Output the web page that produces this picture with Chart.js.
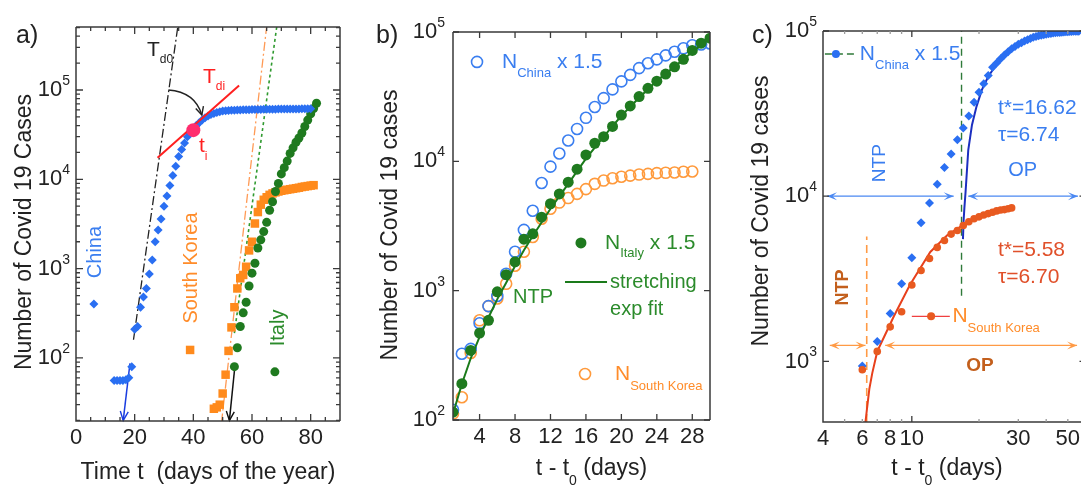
<!DOCTYPE html>
<html>
<head>
<meta charset="utf-8">
<script src="https://cdn.jsdelivr.net/npm/chart.js@4.4.1/dist/chart.umd.min.js"></script>
<style>
  html, body { margin: 0; padding: 0; background: #fff; overflow: hidden; }
  #wrap { position: relative; width: 1081px; height: 486px; overflow: hidden; }
  canvas { position: absolute; top: 0; }
</style>
</head>
<body>
<div id="wrap">
  <canvas id="ca" width="360" height="486" style="left:0"></canvas>
  <canvas id="cb" width="360" height="486" style="left:360px"></canvas>
  <canvas id="cc" width="370" height="486" style="left:720px"></canvas>
</div>
<script>
const FONT = "'Liberation Sans', Arial, Helvetica, sans-serif";

// ---------- a) cases vs day of the year
const aXTicks = [0, 20, 40, 60, 80];
const aYTicks = [100, 1000, 10000, 100000];
const chinaDayA = [13,14,15,16,17,18,19,20,21,22,23,24,25,26,27,28,29,30,31,32,33,34,35,36,37,38,39,40,
  41,42,43,44,45,46,47,48,49,50,51,52,53,54,55,56,57,58,59,60,61,62,63,64,65,66,67,68,69,70,
  71,72,73,74,75,76,77,78,79,80];
const chinaCasesA = [56,56,56,56,57,60,80,210,225,370,480,600,870,1250,2000,2700,
  3600,5000,6500,8500,11000,14000,18000,21500,25500,30000,33000,35500,
  40000,43000,46000,49000,51000,53000,54500,56000,57000,58000,
  58500,59000,59200,59400,59600,59800,60000,60100,60200,60300,
  60400,60500,60600,60700,60800,60900,61000,61000,61100,61100,
  61200,61200,61300,61300,61400,61400,61500,61500,61500,61600];
const koreaDayA = [47,48,49,50,51,52,53,54,55,56,57,58,59,60,61,62,63,64,65,66,
  67,68,69,70,71,72,73,74,75,76,77,78,79,80,81];
const koreaCasesA = [27,28,30,40,65,120,220,370,600,780,850,1050,1600,2000,3200,4300,5200,5900,6300,6700,
  6950,7150,7300,7450,7550,7650,7750,7850,7950,8050,8200,8300,8400,8500,8600];
const italyDayA = [54,55,56,57,58,59,60,61,62,63,64,65,66,67,68,69,70,71,72,73,74,75,76,77,78,79,80,81,82];
const italyCasesA = [80,130,225,320,420,640,890,1150,1700,2100,2600,3300,4500,5600,7300,9000,
  11500,13500,16000,19500,22500,26000,29000,33000,39000,46000,54000,62000,71000];
const td0Day = [19.6, 36], td0Cases = [160, 1020000];
const tdiDay = [27.8, 55.6], tdiCases = [17400, 112000];
const koreaSlopeDay = [49.6, 66], koreaSlopeCases = [19, 1000000];
const italySlopeDay = [54, 70], italySlopeCases = [190, 1200000];
const chinaOnsetDay = [18.4, 16.1], chinaOnsetCases = [87, 20];
const italyOnsetDay = [54.2, 52.3], italyOnsetCases = [83, 20];
const tiDay = [40], tiCases = [35500];
const bendDay = [31.5, 40.6, 42.9], bendCases = [100000, 95000, 52500];

// ---------- b) rescaled cases vs t - t0
const bXTicks = [4, 8, 12, 16, 20, 24, 28];
const bYTicks = [100, 1000, 10000, 100000];
const dayB = [1,2,3,4,5,6,7,8,9,10,11,12,13,14,15,16,17,18,19,20,21,22,23,24,25,26,27,28,29,30];
const chinaB = [120,325,355,560,760,910,1350,2000,2950,4150,6800,9100,11500,14500,17800,21700,
  26300,30800,36000,41500,46600,52600,57300,61400,66000,70400,74800,79000,80000,81500];
const italyB = [115,191,345,470,590,980,1330,1670,2500,2750,3700,4700,5600,6900,8700,11200,
  13800,15500,18600,22800,26800,31700,36700,41700,47300,53800,61500,72000,82000,89500];
const koreaDayB = [1,2,3,4,5,6,7,8,9,10,11,12,13,14,15,16,17,18,19,20,21,22,23,24,25,26,27,28];
const koreaB = [112,150,330,590,760,870,1130,1560,2000,2600,3600,4300,4800,5200,5600,6100,
  6700,7100,7400,7600,7750,7900,8000,8100,8150,8200,8300,8350];
const fitDayB = [1,2,3,4,5,6,7,8,9,10,12,14,16,18,20,22,24,26,28,30];
const fitB = [112,190,300,440,620,860,1150,1550,2050,2650,4300,6700,10500,15500,22500,31000,42000,54000,70000,89000];

// ---------- c) log-log with fits
const cXTicks = [4, 6, 8, 10, 30, 50];
const cYTicks = [1000, 10000, 100000];
const chinaDayC = [6,7,8,9,10,11,12,13,14,15,16,17,18,19,20,21,22,23,24,25,26,27,28,29,30,
  31,32,33,34,35,36,37,38,39,40,41,42,43,44,45,46,47,48,49,50,51,52,53,54,55,56];
const chinaC = [940,1320,1950,2950,4240,6900,9100,11800,14900,18000,22000,25900,30600,37000,42600,
  48000,53700,60300,64000,68000,71500,75000,78000,80500,83000,85000,87000,88500,90000,91500,
  92500,93500,94300,95000,95600,96200,96700,97100,97500,97800,98100,98400,98600,98800,99000,
  99200,99400,99500,99600,99700,99800];
const koreaDayC = [6,7,8,9,10,11,12,13,14,15,16,17,18,19,20,21,22,23,24,25,26,27,28];
const koreaC = [890,1150,1620,2000,2900,3550,4200,4900,5400,5900,6200,6650,7000,7300,7500,
  7700,7850,8000,8150,8250,8300,8400,8500];
const chinaFitDay = [16.95,17.05,17.2,17.4,17.9,18.6,19.5,20.6,22,24,27,31,36,42,50,60];
const chinaFit = [5500,7000,8500,10500,19000,27000,35000,44000,53000,63000,74000,84000,91000,96000,99000,100000];
const koreaFitDay = [6.2,6.3,6.45,6.65,7.0,7.5,8.3,9.8,12.1,14.4,17,20,24,28.5];
const koreaFit = [430,520,680,850,1150,1400,1870,2900,4600,5800,6700,7400,8000,8500];
const tStarChinaDay = [16.7, 16.7], tStarChinaCases = [2500, 100000];
const tStarKoreaDay = [6.28, 6.28], tStarKoreaCases = [430, 5700];
const chinaNtpDay = [4.17, 15.4], chinaOpDay = [17.9, 55.5], chinaArrowCases = [10000, 10000];
const koreaNtpDay = [4.29, 6.2], koreaOpDay = [7.6, 55], koreaArrowCases = [1250, 1250];

// ---------- helpers
const pts = (xs, ys) => xs.map((x, i) => ({x: x, y: ys[i]}));
const font = (s, b) => (b ? 'bold ' : '') + s + 'px ' + FONT;
const P = (c, x, y) => [c.scales.x.getPixelForValue(x), c.scales.y.getPixelForValue(y)];

function rich(ctx, parts, x, y, color, align) {
  let w = 0;
  parts.forEach(p => { ctx.font = font(p.s, p.b); p.w = ctx.measureText(p.t).width; w += p.w; });
  let cx = align === 'center' ? x - w / 2 : x;
  ctx.textAlign = 'left'; ctx.textBaseline = 'middle'; ctx.fillStyle = color;
  parts.forEach(p => { ctx.font = font(p.s, p.b); ctx.fillText(p.t, cx, y + (p.dy || 0)); cx += p.w; });
}
function vtext(ctx, s, x, y, size, color, bold) {
  ctx.save(); ctx.translate(x, y); ctx.rotate(-Math.PI / 2);
  ctx.font = font(size, bold); ctx.fillStyle = color; ctx.textAlign = 'center'; ctx.textBaseline = 'middle';
  ctx.fillText(s, 0, 0); ctx.restore();
}
function dot(ctx, style, r, x, y, fill, stroke, bw) {
  ctx.fillStyle = fill; ctx.strokeStyle = stroke || fill; ctx.lineWidth = bw || 0;
  Chart.helpers.drawPoint(ctx, {pointStyle: style, radius: r, rotation: 0, borderWidth: bw || 0}, x, y);
}
function head(ctx, x1, y1, x2, y2, len, wid, color, filled) {
  const a = Math.atan2(y2 - y1, x2 - x1), c = Math.cos(a), s = Math.sin(a);
  ctx.setLineDash([]); ctx.strokeStyle = color; ctx.fillStyle = color; ctx.lineWidth = 1.4;
  ctx.beginPath();
  ctx.moveTo(x2 - len * c + wid * s, y2 - len * s - wid * c);
  ctx.lineTo(x2, y2);
  ctx.lineTo(x2 - len * c - wid * s, y2 - len * s + wid * c);
  if (filled) { ctx.lineTo(x2 - 0.55 * len * c, y2 - 0.55 * len * s); ctx.closePath(); ctx.fill(); }
  else ctx.stroke();
}
function frame(c, right) {
  const a = c.chartArea, ctx = c.ctx;
  ctx.setLineDash([]); ctx.strokeStyle = '#3a3a3a'; ctx.lineWidth = 1.5;
  ctx.beginPath();
  ctx.moveTo(a.left, a.top); ctx.lineTo(a.left, a.bottom); ctx.lineTo(a.right, a.bottom);
  ctx.moveTo(a.left, a.top); ctx.lineTo(a.right, a.top);
  if (right) { ctx.moveTo(a.right, a.top); ctx.lineTo(a.right, a.bottom); }
  ctx.stroke();
}
function xMarks(c, vals, len, color) {
  const a = c.chartArea, ctx = c.ctx;
  ctx.strokeStyle = color || '#3a3a3a'; ctx.lineWidth = 1.3; ctx.beginPath();
  vals.forEach(v => {
    const x = c.scales.x.getPixelForValue(v);
    ctx.moveTo(x, a.bottom); ctx.lineTo(x, a.bottom - len);
    ctx.moveTo(x, a.top); ctx.lineTo(x, a.top + len);
  });
  ctx.stroke();
}
function yMarks(c, vals, len) {
  const a = c.chartArea, ctx = c.ctx;
  ctx.strokeStyle = '#3a3a3a'; ctx.lineWidth = 1.3; ctx.beginPath();
  vals.forEach(v => {
    const y = c.scales.y.getPixelForValue(v);
    ctx.moveTo(a.left, y); ctx.lineTo(a.left + len, y);
    ctx.moveTo(a.right, y); ctx.lineTo(a.right - len, y);
  });
  ctx.stroke();
}
function xLabels(c, vals) {
  const ctx = c.ctx, a = c.chartArea;
  ctx.font = font(22); ctx.fillStyle = '#222'; ctx.textAlign = 'center'; ctx.textBaseline = 'alphabetic';
  vals.forEach(v => ctx.fillText(String(v), c.scales.x.getPixelForValue(v), a.bottom + 23));
}
function yLabels(c, vals, gap) {
  const ctx = c.ctx, xr = c.chartArea.left - gap;
  vals.forEach(v => {
    const y = c.scales.y.getPixelForValue(v), e = String(Math.round(Math.log10(v)));
    ctx.fillStyle = '#222'; ctx.textBaseline = 'middle'; ctx.textAlign = 'right';
    ctx.font = font(14); const we = ctx.measureText(e).width;
    ctx.fillText(e, xr, y - 9);
    ctx.font = font(22); ctx.fillText('10', xr - we, y);
  });
}
function minorLog(lo, hi) {
  const out = [];
  for (let e = Math.floor(Math.log10(lo)); e <= Math.ceil(Math.log10(hi)); e++)
    for (let m = 2; m <= 9; m++) { const v = m * Math.pow(10, e); if (v > lo && v < hi) out.push(v); }
  return out;
}
function line(xs, ys, color, width, dash) {
  return {data: pts(xs, ys), showLine: true, pointRadius: 0, borderColor: color,
          borderWidth: width, borderDash: dash || [], backgroundColor: color};
}
function scatter(xs, ys, style, r, fill, stroke, bw) {
  return {data: pts(xs, ys), showLine: false, pointStyle: style, pointRadius: r,
          backgroundColor: fill, borderColor: stroke || fill, borderWidth: bw || 0};
}
function makeChart(id, datasets, xs, ys, pad, deco) {
  return new Chart(document.getElementById(id), {
    type: 'scatter',
    data: {datasets: datasets},
    options: {
      responsive: false, animation: false, events: [],
      layout: {padding: pad},
      plugins: {legend: {display: false}, tooltip: {enabled: false}},
      scales: {x: Object.assign({display: false}, xs), y: Object.assign({display: false}, ys)}
    },
    plugins: [{id: 'deco' + id, afterDatasetsDraw: deco}]
  });
}

// ---------- colours
const BLUE = '#2a6ff2', BLUE_T = '#3a7ef0', NAVY = '#1c2fc0';
const ORANGE = '#ff8a1c', ORANGE_T = '#ff8c2a', GREEN = '#1f7a1f', GREEN_T = '#2b8b2b';
const RED_OR = '#e85a20', RED_T = '#e0502a', BROWN = '#c35f1c', LIGHT_OR = '#ff9a45';

// ---------- panel a
makeChart('ca', [
  line(tdiDay, tdiCases, '#ff1f1f', 2),
  scatter(chinaDayA, chinaCasesA, 'rectRot', 4.5, BLUE),
  scatter(italyDayA, italyCasesA, 'circle', 4.5, GREEN),
  scatter(koreaDayA, koreaCasesA, 'rect', 6, ORANGE),
  line(td0Day, td0Cases, '#222', 1.3, [9, 3, 2, 3]),
  line(koreaSlopeDay, koreaSlopeCases, '#ff9a55', 1.3, [9, 3, 2, 3]),
  line(italySlopeDay, italySlopeCases, '#2f9a2f', 1.6, [3, 3]),
  line(chinaOnsetDay, chinaOnsetCases, '#1a3de0', 1.5),
  line(italyOnsetDay, italyOnsetCases, '#111', 1.5)
], {type: 'linear', min: 0, max: 90}, {type: 'logarithmic', min: 19.7, max: 507000},
  {left: 76, right: 20, top: 27, bottom: 65}, function (c) {
  const ctx = c.ctx, a = c.chartArea;
  ctx.save();
  let p = P(c, chinaOnsetDay[0], chinaOnsetCases[0]), q = P(c, chinaOnsetDay[1], chinaOnsetCases[1]);
  head(ctx, p[0], p[1], q[0], q[1], 9, 4, '#1a3de0', false);
  p = P(c, italyOnsetDay[0], italyOnsetCases[0]); q = P(c, italyOnsetDay[1], italyOnsetCases[1]);
  head(ctx, p[0], p[1], q[0], q[1], 9, 4, '#111', false);
  // inflection point
  p = P(c, tiDay[0], tiCases[0]);
  dot(ctx, 'circle', 7, p[0], p[1], '#ff2d6e');
  // curved arrow from T_d0 to T_di
  const b0 = P(c, bendDay[0], bendCases[0]), b1 = P(c, bendDay[1], bendCases[1]), b2 = P(c, bendDay[2], bendCases[2]);
  ctx.strokeStyle = '#222'; ctx.lineWidth = 1.4; ctx.setLineDash([]);
  ctx.beginPath(); ctx.moveTo(b0[0], b0[1]); ctx.quadraticCurveTo(b1[0], b1[1], b2[0], b2[1]); ctx.stroke();
  head(ctx, b1[0], b1[1], b2[0], b2[1], 8, 4, '#222', false);
  // labels
  p = P(c, 24.2, 280000); rich(ctx, [{t: 'T', s: 21}, {t: 'd0', s: 12, dy: 10}], p[0], p[1], '#222');
  p = P(c, 43.3, 140000); rich(ctx, [{t: 'T', s: 21}, {t: 'di', s: 12, dy: 10}], p[0], p[1], '#ff1f1f');
  p = P(c, 41.9, 23600); rich(ctx, [{t: 't', s: 21}, {t: 'i', s: 12, dy: 11}], p[0], p[1], '#ff1f1f');
  p = P(c, 6.8, 1535); vtext(ctx, 'China', p[0], p[1], 20, BLUE_T);
  p = P(c, 39.5, 1016); vtext(ctx, 'South Korea', p[0], p[1], 20, ORANGE_T);
  p = P(c, 68.9, 217); vtext(ctx, 'Italy', p[0], p[1], 20, GREEN_T);
  p = P(c, 6.1, 402); dot(ctx, 'rectRot', 4.5, p[0], p[1], BLUE);
  p = P(c, 38.9, 123); dot(ctx, 'rect', 6, p[0], p[1], ORANGE);
  p = P(c, 67.8, 70); dot(ctx, 'circle', 4.5, p[0], p[1], GREEN);
  // axes
  frame(c, true);
  xMarks(c, [5, 10, 15, 25, 30, 35, 45, 50, 55, 65, 70, 75, 85], 4);
  xMarks(c, [20, 40, 60, 80], 7);
  yMarks(c, minorLog(19.7, 507000), 4);
  yMarks(c, aYTicks, 7);
  xLabels(c, aXTicks);
  yLabels(c, aYTicks, 6);
  ctx.font = font(23); ctx.fillStyle = '#222'; ctx.textAlign = 'center'; ctx.textBaseline = 'alphabetic';
  ctx.fillText('Time t  (days of the year)', (a.left + a.right) / 2, 479);
  vtext(ctx, 'Number of Covid 19 Cases', 25, 232, 23, '#222');
  ctx.font = font(25); ctx.textAlign = 'left'; ctx.fillStyle = '#222';
  ctx.fillText('a)', 16, 43);
  ctx.restore();
});

// ---------- panel b
makeChart('cb', [
  scatter(dayB, italyB, 'circle', 5.5, GREEN),
  line(fitDayB, fitB, '#1a7a1a', 2),
  scatter(dayB, chinaB, 'circle', 5.5, 'rgba(0,0,0,0)', BLUE_T, 1.6),
  scatter(koreaDayB, koreaB, 'circle', 5.5, 'rgba(0,0,0,0)', '#ff9a3c', 1.6)
], {type: 'linear', min: 1, max: 30}, {type: 'logarithmic', min: 100, max: 100000},
  {left: 93, right: 10, top: 32, bottom: 66}, function (c) {
  const ctx = c.ctx, a = c.chartArea;
  ctx.save();
  let p = P(c, 3.71, 58700); dot(ctx, 'circle', 5.5, p[0], p[1], 'rgba(0,0,0,0)', BLUE_T, 1.6);
  p = P(c, 6.53, 58700);
  rich(ctx, [{t: 'N', s: 21}, {t: 'China', s: 13, dy: 11}, {t: ' x 1.5', s: 21}], p[0], p[1], BLUE_T);
  p = P(c, 15.44, 2340); dot(ctx, 'circle', 5.5, p[0], p[1], GREEN);
  p = P(c, 18.15, 2340);
  rich(ctx, [{t: 'N', s: 21}, {t: 'Italy', s: 13, dy: 11}, {t: ' x 1.5', s: 21}], p[0], p[1], GREEN_T);
  p = P(c, 13.64, 1167); const q = P(c, 18.38, 1167);
  ctx.strokeStyle = '#1a7a1a'; ctx.lineWidth = 2; ctx.setLineDash([]);
  ctx.beginPath(); ctx.moveTo(p[0], p[1]); ctx.lineTo(q[0], q[1]); ctx.stroke();
  p = P(c, 18.72, 1167); rich(ctx, [{t: 'stretching', s: 20}], p[0], p[1], GREEN_T);
  p = P(c, 18.72, 721); rich(ctx, [{t: 'exp fit', s: 20}], p[0], p[1], GREEN_T);
  p = P(c, 7.77, 893); rich(ctx, [{t: 'NTP', s: 20}], p[0], p[1], GREEN_T);
  p = P(c, 15.9, 227); dot(ctx, 'circle', 5.5, p[0], p[1], 'rgba(0,0,0,0)', '#ff9a3c', 1.6);
  p = P(c, 19.28, 227);
  rich(ctx, [{t: 'N', s: 21}, {t: 'South Korea', s: 13, dy: 12}], p[0], p[1], ORANGE_T);
  frame(c, true);
  xMarks(c, bXTicks, 6);
  yMarks(c, bYTicks, 6);
  xLabels(c, bXTicks);
  yLabels(c, bYTicks, 8);
  rich(ctx, [{t: 't - t', s: 23}, {t: '0', s: 14, dy: 12}, {t: ' (days)', s: 23}], (a.left + a.right) / 2 + 10, 469, '#222', 'center');
  vtext(ctx, 'Number of Covid 19 cases', 31, 225, 23, '#222');
  ctx.font = font(25); ctx.textAlign = 'left'; ctx.textBaseline = 'alphabetic'; ctx.fillStyle = '#222';
  ctx.fillText('b)', 16, 43);
  ctx.restore();
});

// ---------- panel c
makeChart('cc', [
  scatter(koreaDayC, koreaC, 'circle', 3.8, RED_OR),
  scatter(chinaDayC, chinaC, 'rectRot', 4.5, BLUE),
  line(chinaFitDay, chinaFit, NAVY, 2),
  line(koreaFitDay, koreaFit, '#e8401c', 2),
  line(tStarChinaDay, tStarChinaCases, '#2f7a3a', 1.4, [7, 5]),
  line(tStarKoreaDay, tStarKoreaCases, LIGHT_OR, 1.6, [8, 5]),
  line(chinaNtpDay, chinaArrowCases, '#4a88f2', 1.3),
  line(chinaOpDay, chinaArrowCases, '#4a88f2', 1.3),
  line(koreaNtpDay, koreaArrowCases, LIGHT_OR, 1.3),
  line(koreaOpDay, koreaArrowCases, LIGHT_OR, 1.3)
], {type: 'logarithmic', min: 4, max: 60}, {type: 'logarithmic', min: 430, max: 100000},
  {left: 103, right: 4, top: 31, bottom: 64}, function (c) {
  const ctx = c.ctx, a = c.chartArea;
  ctx.save();
  [[chinaNtpDay, chinaArrowCases, '#4a88f2'], [chinaOpDay, chinaArrowCases, '#4a88f2'],
   [koreaNtpDay, koreaArrowCases, LIGHT_OR], [koreaOpDay, koreaArrowCases, LIGHT_OR]].forEach(d => {
    const p = P(c, d[0][0], d[1][0]), q = P(c, d[0][1], d[1][1]);
    head(ctx, p[0], p[1], q[0], q[1], 10, 4, d[2], true);
    head(ctx, q[0], q[1], p[0], p[1], 10, 4, d[2], true);
  });
  // legend China
  let p = P(c, 4.08, 72600), q = P(c, 5.73, 72600);
  ctx.strokeStyle = '#2f7a3a'; ctx.lineWidth = 1.4; ctx.setLineDash([7, 4]);
  ctx.beginPath(); ctx.moveTo(p[0], p[1]); ctx.lineTo(q[0], q[1]); ctx.stroke(); ctx.setLineDash([]);
  p = P(c, 4.57, 72600); dot(ctx, 'circle', 4, p[0], p[1], BLUE);
  p = P(c, 5.85, 72600);
  rich(ctx, [{t: 'N', s: 21}, {t: 'China', s: 13, dy: 11}, {t: ' x 1.5', s: 21}], p[0], p[1], BLUE_T);
  p = P(c, 7.2, 15850); vtext(ctx, 'NTP', p[0], p[1], 19, BLUE_T);
  p = P(c, 31.4, 14400); rich(ctx, [{t: 'OP', s: 20}], p[0], p[1], BLUE_T, 'center');
  p = P(c, 24.3, 34200); rich(ctx, [{t: 't*=16.62', s: 21}], p[0], p[1], BLUE_T);
  p = P(c, 24.3, 23400); rich(ctx, [{t: '\u03c4=6.74', s: 21}], p[0], p[1], BLUE_T);
  p = P(c, 24.3, 4710); rich(ctx, [{t: 't*=5.58', s: 21}], p[0], p[1], RED_T);
  p = P(c, 24.3, 3230); rich(ctx, [{t: '\u03c4=6.70', s: 21}], p[0], p[1], RED_T);
  p = P(c, 4.92, 2800); vtext(ctx, 'NTP', p[0], p[1], 18, BROWN, true);
  p = P(c, 20.2, 945); rich(ctx, [{t: 'OP', s: 19, b: true}], p[0], p[1], BROWN, 'center');
  // legend South Korea
  p = P(c, 10.0, 1875); q = P(c, 14.8, 1875);
  ctx.strokeStyle = '#f04040'; ctx.lineWidth = 1.4;
  ctx.beginPath(); ctx.moveTo(p[0], p[1]); ctx.lineTo(q[0], q[1]); ctx.stroke();
  p = P(c, 12.2, 1875); dot(ctx, 'circle', 4, p[0], p[1], RED_OR);
  p = P(c, 15.2, 1875);
  rich(ctx, [{t: 'N', s: 21}, {t: 'South Korea', s: 13, dy: 12}], p[0], p[1], ORANGE_T);
  frame(c, true);
  xMarks(c, [10], 6);
  xMarks(c, [5, 6, 7, 8, 9, 20, 30, 40, 50], 3, '#9a9a9a');
  yMarks(c, cYTicks, 6);
  xLabels(c, cXTicks);
  yLabels(c, cYTicks, 6);
  rich(ctx, [{t: 't - t', s: 23}, {t: '0', s: 14, dy: 12}, {t: ' (days)', s: 23}], 227, 469, '#222', 'center');
  vtext(ctx, 'Number of Covid 19 cases', 42, 211, 23, '#222');
  ctx.font = font(25); ctx.textAlign = 'left'; ctx.textBaseline = 'alphabetic'; ctx.fillStyle = '#222';
  ctx.fillText('c)', 32, 43);
  ctx.restore();
});
</script>
</body>
</html>
